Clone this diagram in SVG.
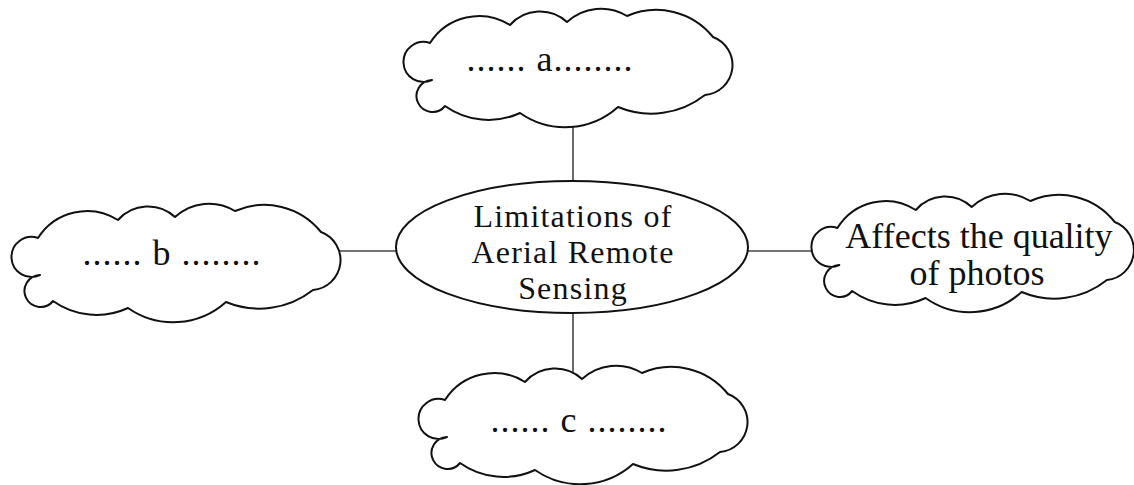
<svg xmlns="http://www.w3.org/2000/svg" xmlns:xlink="http://www.w3.org/1999/xlink" width="1134" height="485" viewBox="0 0 1134 485">
<style>
.bg{fill:#ffffff}
.cloud{fill:#ffffff;stroke:#111;stroke-width:2;stroke-linejoin:round}
.oval{fill:#ffffff;stroke:#111;stroke-width:2}
.conn{stroke:#444;stroke-width:1.6;fill:none}
.t{font-family:"Liberation Serif","Times New Roman",serif;font-size:36px;fill:#111;text-anchor:middle}
.c{font-size:32px;letter-spacing:1.2px}
.dots{letter-spacing:1px}
</style>
<defs>
<path id="cloud" d="M432,80 A20,20 0 1,1 430,43 A58,58 0 0,1 510,25 A40,40 0 0,1 567,22 A50,50 0 0,1 627,16 A73,73 0 0,1 713,37 A30,30 0 0,1 705,95 A87,87 0 0,1 618,107 A79,79 0 0,1 520,113 A75,75 0 0,1 445,106 A16,16 0 1,1 432,80 Z"/>
</defs>
<rect class="bg" x="0" y="0" width="1134" height="485"/>
<g id="connectors">
<line class="conn" x1="573" y1="126" x2="573" y2="182"/>
<line class="conn" x1="573" y1="312" x2="573" y2="372"/>
<line class="conn" x1="336" y1="251" x2="397" y2="251"/>
<line class="conn" x1="747" y1="251" x2="812" y2="251"/>
</g>
<g id="node-center">
<ellipse class="oval" cx="572" cy="247" rx="176" ry="66"/>
<text class="t c" x="573" y="227">Limitations of</text>
<text class="t c" x="573" y="263">Aerial Remote</text>
<text class="t c" x="573" y="299">Sensing</text>
</g>
<g id="node-a">
<use xlink:href="#cloud" href="#cloud" class="cloud"/>
<text class="t dots" x="550" y="71">...... a........</text>
</g>
<g id="node-b">
<use xlink:href="#cloud" href="#cloud" class="cloud" transform="translate(-392,195)"/>
<text class="t dots" x="172" y="265">...... b ........</text>
</g>
<g id="node-c">
<use xlink:href="#cloud" href="#cloud" class="cloud" transform="translate(15,357)"/>
<text class="t dots" x="579" y="432">...... c ........</text>
</g>
<g id="node-d">
<use xlink:href="#cloud" href="#cloud" class="cloud" transform="translate(416,185) scale(0.98,1)"/>
<text class="t" x="979" y="248">Affects the quality</text>
<text class="t" x="977" y="285">of photos</text>
</g>
</svg>
